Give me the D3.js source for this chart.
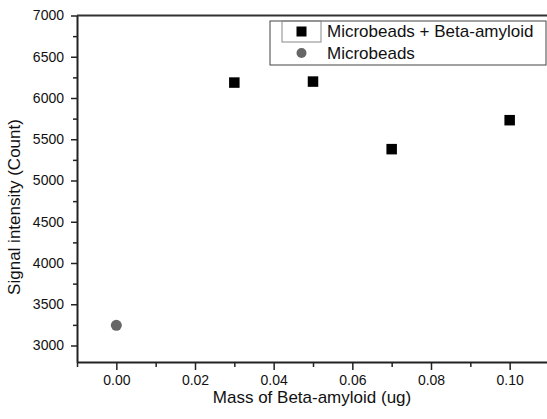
<!DOCTYPE html>
<meta charset="utf-8">
<script src="https://d3js.org/d3.v7.min.js"></script>
<style>
    body { margin: 0; background: #fff; }
    text { font-family: "Liberation Sans", Arial, sans-serif; fill: #111; }
</style>
<div id="vis"></div>
<script>
    // data
    var massBeta = [0.03, 0.05, 0.07, 0.10];
    var signalBeta = [6187, 6199, 5380, 5731];
    var massBeads = [0.00];
    var signalBeads = [3245];
    var xTicks = [0.00, 0.02, 0.04, 0.06, 0.08, 0.10];
    var yTicks = [3000, 3500, 4000, 4500, 5000, 5500, 6000, 6500, 7000];
    var seriesNames = ["Microbeads + Beta-amyloid", "Microbeads"];

    var W = 547, H = 419;
    var mgn = { top: 15.5, rgt: -2, btm: 57, lft: 77 };
    var wid = W - mgn.lft - mgn.rgt,
        hgt = H - mgn.top - mgn.btm;

    var svg = d3.select("#vis").append("svg")
        .attr("width", W).attr("height", H);
    var g = svg.append("g")
        .attr("transform", "translate(" + mgn.lft + "," + mgn.top + ")");

    var x = d3.scaleLinear().domain([-0.01, 0.11]).range([0, wid]);
    var y = d3.scaleLinear().domain([2800, 7000]).range([hgt, 0]);

    // minor ticks
    var xMinor = d3.range(-0.01, 0.115, 0.02).map(function (d) { return +d.toFixed(2); });
    var yMinor = d3.range(3250, 7000, 500);

    g.append("g")
        .attr("transform", "translate(0," + hgt + ")")
        .call(d3.axisBottom(x).tickValues(xMinor).tickSize(5).tickFormat(""))
        .call(function (s) { s.select(".domain").remove(); s.selectAll("line").attr("stroke-width", 1.5).attr("stroke", "#222"); });
    g.append("g")
        .call(d3.axisLeft(y).tickValues(yMinor).tickSize(4).tickFormat(""))
        .call(function (s) { s.select(".domain").remove(); s.selectAll("line").attr("stroke-width", 1.5).attr("stroke", "#222"); });

    // major axes
    var xa = g.append("g")
        .attr("transform", "translate(0," + hgt + ")")
        .call(d3.axisBottom(x).tickValues(xTicks).tickSize(8).tickSizeOuter(0).tickPadding(5).tickFormat(d3.format(".2f")));
    var ya = g.append("g")
        .call(d3.axisLeft(y).tickValues(yTicks).tickSize(6).tickSizeOuter(0).tickPadding(7).tickFormat(d3.format("d")));
    [xa, ya].forEach(function (a) {
        a.select(".domain").attr("stroke", "#222").attr("stroke-width", 2);
        a.selectAll("line").attr("stroke", "#222").attr("stroke-width", 1.5);
        a.selectAll("text").style("font-size", "14px").attr("fill", "#111");
    });

    // top frame line
    g.append("line")
        .attr("x1", 0).attr("x2", wid)
        .attr("y1", 0).attr("y2", 0)
        .attr("stroke", "#333").attr("stroke-width", 2);

    // points
    var sq = 10.5;
    g.selectAll("rect.pt")
        .data(massBeta)
        .enter().append("rect")
        .attr("class", "pt")
        .attr("x", function (d) { return x(d) - sq / 2; })
        .attr("y", function (d, i) { return y(signalBeta[i]) - sq / 2; })
        .attr("width", sq).attr("height", sq)
        .attr("fill", "#000");
    g.selectAll("circle.pt")
        .data(massBeads)
        .enter().append("circle")
        .attr("class", "pt")
        .attr("cx", function (d) { return x(d); })
        .attr("cy", function (d, i) { return y(signalBeads[i]); })
        .attr("r", 5.5)
        .attr("fill", "#666");

    // axis titles
    svg.append("text")
        .attr("x", 312)
        .attr("y", 403)
        .attr("text-anchor", "middle")
        .style("font-size", "17px")
        .text("Mass of Beta-amyloid (ug)");
    svg.append("text")
        .attr("transform", "translate(20,207) rotate(-90)")
        .attr("text-anchor", "middle")
        .style("font-size", "17px")
        .text("Signal intensity (Count)");

    // legend
    var lg = svg.append("g").attr("transform", "translate(270,21)");
    lg.append("rect")
        .attr("width", 276).attr("height", 44)
        .attr("fill", "#fff").attr("stroke", "#444").attr("stroke-width", 1);
    lg.append("rect")
        .attr("x", 12).attr("y", 0).attr("width", 39).attr("height", 21)
        .attr("fill", "none").attr("stroke", "#888").attr("stroke-width", 1);
    lg.append("rect")
        .attr("x", 31.5 - 5).attr("y", 10.5 - 5).attr("width", 10).attr("height", 10)
        .attr("fill", "#000");
    lg.append("circle")
        .attr("cx", 31.5).attr("cy", 32).attr("r", 5)
        .attr("fill", "#666");
    lg.selectAll("text.lbl")
        .data(seriesNames)
        .enter().append("text")
        .attr("class", "lbl")
        .attr("x", 57)
        .attr("y", function (d, i) { return 16 + i * 22; })
        .style("font-size", "17px")
        .text(function (d) { return d; });
</script>
